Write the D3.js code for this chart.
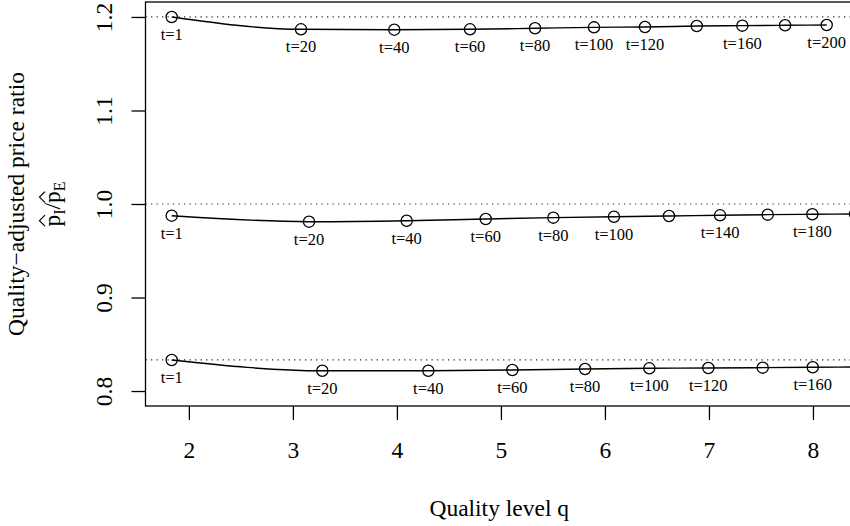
<!DOCTYPE html>
<html><head><meta charset="utf-8">
<script src="https://cdn.jsdelivr.net/npm/d3@7"></script>
<style>body{margin:0;background:#fff} svg{display:block} text{font-family:"Liberation Serif","Times New Roman",serif;fill:#000}</style>
</head><body>
<svg id="c" width="850" height="526"></svg>
<script>
// ---- data ----
const xTicks = [2, 3, 4, 5, 6, 7, 8];
const yTicks = [0.8, 0.9, 1.0, 1.1, 1.2];
const refLines = [1.2, 1.0, 5 / 6];

const topT = [1, 20, 40, 60, 80, 100, 120, 140, 160, 180, 200];
const topQ = [1.835, 3.078, 3.975, 4.703, 5.328, 5.895, 6.385, 6.883, 7.321, 7.732, 8.132];
const topV = [1.2000, 1.1868, 1.1864, 1.1868, 1.1879, 1.1889, 1.1893, 1.1903, 1.1907, 1.1911, 1.1914];
const topLabeled = [1, 20, 40, 60, 80, 100, 120, 160, 200];

const midT = [1, 20, 40, 60, 80, 100, 120, 140, 160, 180, 200];
const midQ = [1.835, 3.155, 4.094, 4.854, 5.504, 6.087, 6.616, 7.107, 7.565, 7.994, 8.405];
const midV = [0.9875, 0.9811, 0.9821, 0.9840, 0.9854, 0.9864, 0.9872, 0.9879, 0.9886, 0.9890, 0.9893];
const midLabeled = [1, 20, 40, 60, 80, 100, 140, 180];

const botT = [1, 20, 40, 60, 80, 100, 120, 140, 160, 180];
const botQ = [1.835, 3.283, 4.302, 5.110, 5.809, 6.427, 6.994, 7.517, 7.998, 8.453];
const botV = [0.8332, 0.8217, 0.8217, 0.8225, 0.8236, 0.8243, 0.8246, 0.8250, 0.8254, 0.8258];
const botLabeled = [1, 20, 40, 60, 80, 100, 120, 160];

const xTitle = "Quality level q";
const yTitle = "Quality\u2212adjusted price ratio";

// ---- build ----
const series = [
  {t: topT, q: topQ, v: topV, lab: topLabeled},
  {t: midT, q: midQ, v: midV, lab: midLabeled},
  {t: botT, q: botQ, v: botV, lab: botLabeled}
].map(s => ({pts: s.t.map((t, i) => ({t, q: s.q[i], v: s.v[i]})), lab: s.lab}));

const FONT = "'Liberation Serif','Times New Roman',serif";
const svg = d3.select("#c");
const L = 145.5, R = 853, T = 2, B = 406;
const x = d3.scaleLinear().domain([1.583, 8.385]).range([L, R]);
const y = d3.scaleLinear().domain([0.784, 1.216]).range([B, T]);

svg.append("defs").append("clipPath").attr("id", "clip")
  .append("rect").attr("x", L).attr("y", T).attr("width", R - L).attr("height", B - T);

const plot = svg.append("g").attr("clip-path", "url(#clip)");

// reference dotted lines
plot.selectAll("line.ref").data(refLines).enter().append("line")
  .attr("x1", L).attr("x2", R)
  .attr("y1", d => y(d)).attr("y2", d => y(d))
  .attr("stroke", "#333").attr("stroke-width", 1.2)
  .attr("stroke-dasharray", "1.3,4.2");

const line = d3.line().x(d => x(d.q)).y(d => y(d.v)).curve(d3.curveMonotoneX);

series.forEach(s => {
  plot.append("path").datum(s.pts).attr("d", line)
    .attr("fill", "none").attr("stroke", "#000").attr("stroke-width", 1.4);
  plot.selectAll(null).data(s.pts).enter().append("circle")
    .attr("cx", d => x(d.q)).attr("cy", d => y(d.v)).attr("r", 5.6)
    .attr("fill", "none").attr("stroke", "#000").attr("stroke-width", 1.3);
  svg.selectAll(null).data(s.pts.filter(d => s.lab.includes(d.t))).enter().append("text")
    .attr("x", d => x(d.q)).attr("y", d => y(d.v) + 23)
    .attr("text-anchor", "middle").style("font-size", "16.5px").style("font-family", FONT)
    .text(d => "t=" + d.t);
});

// box
svg.append("rect").attr("x", L).attr("y", T).attr("width", R - L).attr("height", B - T)
  .attr("fill", "none").attr("stroke", "#000").attr("stroke-width", 1.3);

// x axis
const xAxis = svg.append("g").attr("transform", `translate(0,${B})`)
  .call(d3.axisBottom(x).tickValues(xTicks).tickSize(14).tickSizeOuter(0).tickFormat(d3.format("d")))
  .attr("font-family", FONT);
xAxis.selectAll(".domain").remove();
xAxis.selectAll(".tick line").attr("stroke", "#000").attr("stroke-width", 1.3);
xAxis.selectAll(".tick text").attr("y", 52).attr("dy", null)
  .style("font-size", "23.5px").style("font-family", FONT).attr("fill", "#000");

// y axis
const yAxis = svg.append("g").attr("transform", `translate(${L},0)`)
  .call(d3.axisLeft(y).tickValues(yTicks).tickSize(14).tickSizeOuter(0).tickFormat(d3.format(".1f")))
  .attr("font-family", FONT);
yAxis.selectAll(".domain").remove();
yAxis.selectAll(".tick line").attr("stroke", "#000").attr("stroke-width", 1.3);
yAxis.selectAll(".tick text")
  .attr("x", null).attr("dy", null).attr("text-anchor", "middle")
  .attr("transform", `translate(${111.5 - L},0) rotate(-90)`)
  .style("font-size", "23.5px").style("font-family", FONT).attr("fill", "#000");

// titles
svg.append("text").attr("x", (L + R) / 2).attr("y", 516).attr("text-anchor", "middle")
  .style("font-size", "23.5px").style("font-family", FONT).text(xTitle);

const cy = (T + B) / 2;
svg.append("text").attr("transform", `translate(24,${cy}) rotate(-90)`).attr("text-anchor", "middle")
  .style("font-size", "23.5px").style("font-family", FONT).text(yTitle);

// second line: hat(p)[I] / hat(p)[E]
const g2 = svg.append("g").attr("transform", `translate(60,${cy}) rotate(-90)`);
const t2 = g2.append("text").attr("text-anchor", "middle")
  .style("font-size", "23.5px").style("font-family", FONT);
const p1 = t2.append("tspan").text("p");
t2.append("tspan").attr("dy", 5).style("font-size", "16px").text("I");
t2.append("tspan").attr("dy", -5).text("/");
const p2 = t2.append("tspan").text("p");
t2.append("tspan").attr("dy", 5).style("font-size", "16px").text("E");
// hats drawn above each p
const node = t2.node();
[0, 3].forEach(idx => {
  const ext = node.getExtentOfChar(idx);
  const cx = ext.x + ext.width / 2;
  g2.append("path")
    .attr("d", `M${cx - 5.5},-15 L${cx},-20.5 L${cx + 5.5},-15`)
    .attr("fill", "none").attr("stroke", "#000").attr("stroke-width", 1.2);
});
</script>
</body></html>
